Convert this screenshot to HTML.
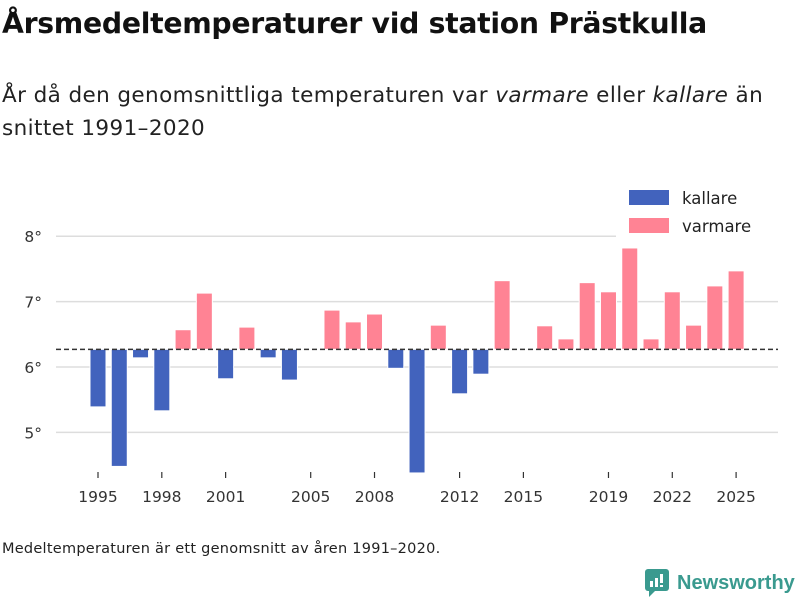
<!DOCTYPE html>
<html><head><meta charset="utf-8"><style>
body{margin:0;width:800px;height:600px;background:#fff;font-family:"DejaVu Sans","Liberation Sans",sans-serif;color:#111;overflow:hidden;position:relative}
.t{position:absolute;left:2px;top:7px;font-size:28.3px;font-weight:bold;letter-spacing:-0.3px;white-space:nowrap}
.s{position:absolute;left:2px;top:79px;font-size:21.5px;letter-spacing:0.4px;line-height:33px;color:#222;width:790px}
.n{position:absolute;left:2px;top:541px;font-size:14.5px;letter-spacing:0.25px;color:#222;white-space:nowrap}
.logo{position:absolute;left:645px;top:569px;display:flex;align-items:center;color:#3a9a8f;font-size:20px;font-weight:bold;font-family:"Liberation Sans",sans-serif}
svg{position:absolute;left:0;top:0}
</style></head><body>
<div class="t">Årsmedeltemperaturer vid station Prästkulla</div>
<div class="s">År då den genomsnittliga temperaturen var <i>varmare</i> eller <i>kallare</i> än snittet 1991–2020</div>
<svg id="c" width="800" height="600"></svg>
<div class="n">Medeltemperaturen är ett genomsnitt av åren 1991–2020.</div>
<div class="logo"><svg style="position:static;margin-right:8px" width="24" height="28" viewBox="0 0 24 28"><rect x="0" y="0" width="24" height="22" rx="3" fill="#3a9a8f"/><polygon points="4,22 10,22 4,28" fill="#3a9a8f"/><rect x="5" y="12" width="3" height="6" fill="#fff"/><rect x="10" y="9" width="3" height="9" fill="#fff"/><rect x="15" y="5" width="3" height="9" fill="#fff"/><rect x="15" y="16" width="3" height="2" fill="#fff"/></svg>Newsworthy</div>
<script>
const years=[1995,1996,1997,1998,1999,2000,2001,2002,2003,2004,2006,2007,2008,2009,2010,2011,2012,2013,2014,2016,2017,2018,2019,2020,2021,2022,2023,2024,2025];
const temps=[5.39,4.48,6.14,5.33,6.57,7.13,5.82,6.61,6.14,5.80,6.87,6.69,6.81,5.98,4.38,6.64,5.59,5.89,7.32,6.63,6.43,7.29,7.15,7.82,6.43,7.15,6.64,7.24,7.47];
const mean=6.27;
const xTicks=[1995,1998,2001,2005,2008,2012,2015,2019,2022,2025];
const yTicks=[5,6,7,8];
const NS="http://www.w3.org/2000/svg",svg=document.getElementById('c');
const x=y=>98+(y-1995)*21.27;
const yS=v=>367-(v-6)*65.4;
function mk(t,a){const e=document.createElementNS(NS,t);for(const k in a)e.setAttribute(k,a[k]);svg.appendChild(e);return e;}
yTicks.forEach(v=>{
 const l=mk('line',{x1:56,x2:778,y1:yS(v),y2:yS(v),stroke:'#ddd','stroke-width':1.5});
 
 
 const t=mk('text',{x:42,y:yS(v)+6,'text-anchor':'end','font-size':15.5,fill:'#333'});t.textContent=v+'°';
 
 
});
years.forEach((yr,i)=>{
 const v=temps[i],warm=v>mean;
 const y0=yS(Math.max(v,mean)),y1=yS(Math.min(v,mean));
 const r=mk('rect',{x:x(yr)-8,y:y0,width:16,height:y1-y0,fill:warm?'#ff8394':'#4263bd',stroke:'#fff','stroke-width':1});
 
 
});
const d=mk('line',{x1:56,x2:778,y1:yS(mean),y2:yS(mean),stroke:'#333','stroke-width':1.5,'stroke-dasharray':'5,3'});


xTicks.forEach(yr=>{
 const l=mk('line',{x1:x(yr),x2:x(yr),y1:472,y2:478,stroke:'#333','stroke-width':1.2});
 
 
 const t=mk('text',{x:x(yr),y:502,'text-anchor':'middle','font-size':15.5,fill:'#333'});t.textContent=yr;
 
 
});
const lb=mk('rect',{x:616,y:186,width:162,height:52,fill:'#fff'});


[['kallare','#4263bd',190],['varmare','#ff8394',218]].forEach(([n,c,yy])=>{
 const r=mk('rect',{x:629,y:yy,width:40,height:15,fill:c});
 
 
 const t=mk('text',{x:682,y:yy+14,'font-size':16.5,fill:'#222'});t.textContent=n;
 
 
});
</script>
</body></html>
